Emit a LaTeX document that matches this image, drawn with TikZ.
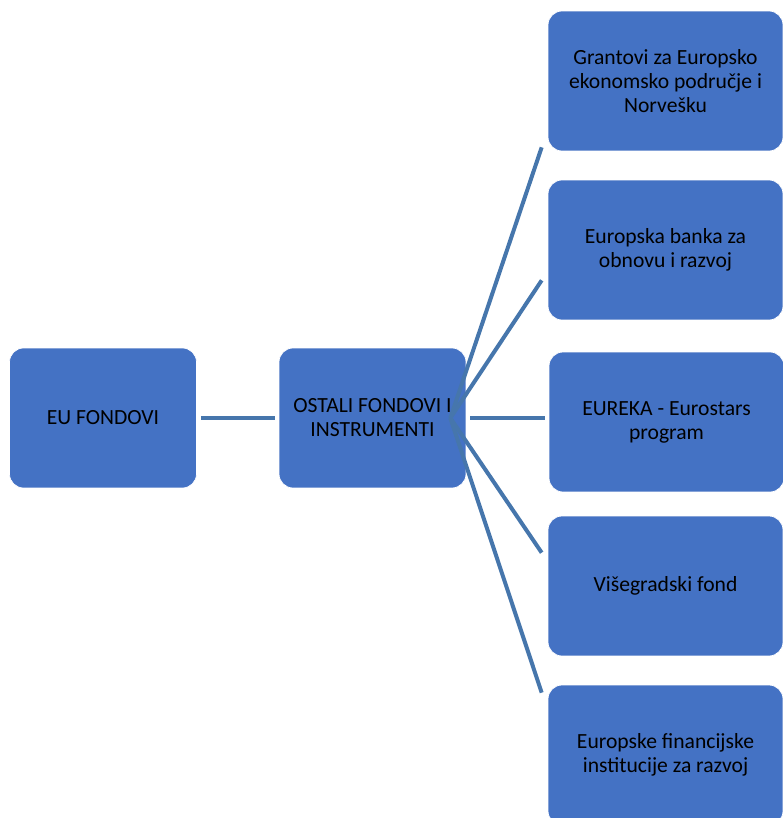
\documentclass[tikz,border=0pt]{standalone}
\usepackage{fontspec}
\setmainfont{Carlito}
\usetikzlibrary{calc}

\definecolor{boxblue}{RGB}{68,114,196}
\definecolor{lineblue}{RGB}{70,118,172}

\tikzset{
  fund/.style={rectangle, rounded corners=0.28cm, fill=boxblue, draw=white,
    line width=0.4pt, align=center, inner sep=0pt,
    font=\fontsize{12.3}{13.6}\selectfont},
  smallfund/.style={fund, minimum width=3.74cm, minimum height=2.8cm},
  widefund/.style={fund, minimum width=4.7cm, minimum height=2.8cm},
  link/.style={lineblue, line width=0.08cm}
}

\begin{document}
\begin{tikzpicture}[x=0.02cm, y=-0.02cm]

\useasboundingbox (0,0) rectangle (783,818);

\node (eu) at (103, 418) [smallfund] {EU FONDOVI};
\node (ostali) at (372.5, 418) [smallfund] {OSTALI FONDOVI I\\INSTRUMENTI};

\node (eea) at (665.5, 81) [widefund] {Grantovi za Europsko\\ekonomsko područje i\\Norvešku};
\node (ebrd) at (665.5, 250) [widefund] {Europska banka za\\obnovu i razvoj};
\node (eureka) at (666.5, 422) [widefund] {EUREKA - Eurostars\\program};
\node (visegrad) at (665.5, 586) [widefund] {Višegradski fond};
\node (edfi) at (665.5, 755) [widefund] {Europske financijske\\institucije za razvoj};

%% fan start and loose ends
\coordinate (hub) at ($(ostali.east)+(-16,0)$);
\coordinate (eeaend) at ($(eea.south west)+(-6,-4)$);
\coordinate (ebrdend) at ($(ebrd.south west)+(-6,-40)$);
\coordinate (visegradend) at ($(visegrad.north west)+(-6,37)$);
\coordinate (edfiend) at ($(edfi.north west)+(-6,8)$);

\draw[link, shorten <=0.08cm, shorten >=0.08cm] (eu) -- (ostali);
\draw[link, shorten <=0.08cm, shorten >=0.08cm] (ostali.east) -- (eureka.west |- ostali.east);

\draw[link] (hub) -- (eeaend);
\draw[link] (hub) -- (ebrdend);
\draw[link] (hub) -- (visegradend);
\draw[link] (hub) -- (edfiend);

\end{tikzpicture}
\end{document}
